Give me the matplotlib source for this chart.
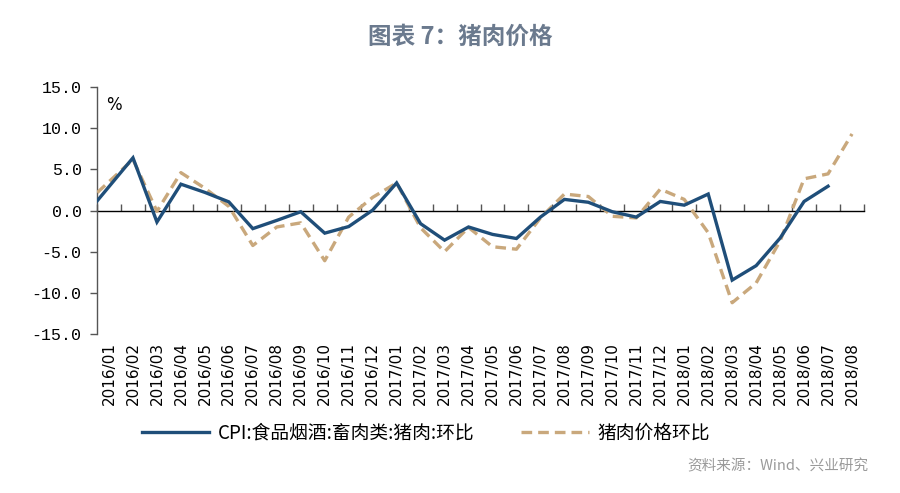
import matplotlib as mpl
import matplotlib.pyplot as plt
import numpy as np

mpl.rcParams.update(
    {
        "font.family": ["Noto Sans CJK SC", "DejaVu Sans"],
        "axes.linewidth": 1.0,
    }
)

# months shown on the category axis
months = [
    "2016/01", "2016/02", "2016/03", "2016/04", "2016/05", "2016/06", "2016/07", "2016/08",
    "2016/09", "2016/10", "2016/11", "2016/12", "2017/01", "2017/02", "2017/03", "2017/04",
    "2017/05", "2017/06", "2017/07", "2017/08", "2017/09", "2017/10", "2017/11", "2017/12",
    "2018/01", "2018/02", "2018/03", "2018/04", "2018/05", "2018/06", "2018/07", "2018/08",
]
# the lines enter from a 2015/12 point that the plot area clips
lead_cpi = -0.6
lead_pork = 0.8

cpi_pork_mom = [
    2.9, 6.4, -1.4, 3.2, 2.2, 1.05, -2.2, -1.2,
    -0.15, -2.75, -1.95, 0.05, 3.35, -1.6, -3.6, -2.0,
    -2.9, -3.4, -0.8, 1.35, 1.0, -0.15, -0.8, 1.1,
    0.65, 2.0, -8.45, -6.7, -3.35, 1.1, 2.95, np.nan,
]
pork_price_mom = [
    3.5, 6.2, -0.1, 4.6, 2.7, 0.5, -4.25, -2.0,
    -1.5, -6.1, -0.8, 1.6, 3.35, -2.1, -5.0, -2.05,
    -4.4, -4.7, -0.9, 2.0, 1.7, -0.7, -0.9, 2.6,
    1.35, -2.7, -11.2, -8.8, -3.7, 3.85, 4.45, 9.3,
]
series_names = ["CPI:食品烟酒:畜肉类:猪肉:环比", "猪肉价格环比"]
yticks = [-15, -10, -5, 0, 5, 10, 15]

blue = "#1f4e79"
tan = "#c9a87c"
axis_grey = "#555555"

fig = plt.figure(figsize=(9.0, 4.93), dpi=100)
ax = fig.add_axes([0.1078, 0.3225, 0.8522, 0.501])

x = np.arange(-1, len(months))
ax.plot(x, [lead_cpi] + cpi_pork_mom, color=blue, linewidth=2.4, label=series_names[0],
        solid_joinstyle="miter", zorder=4)
ax.plot(x, [lead_pork] + pork_price_mom, color=tan, linewidth=2.4, dashes=(3.2, 1.8),
        label=series_names[1], zorder=3)

ax.set_xlim(-0.5, len(months) - 0.5)
ax.set_ylim(yticks[0], yticks[-1])

for side in ["top", "right", "bottom"]:
    ax.spines[side].set_visible(False)
ax.spines["left"].set_color(axis_grey)

ax.set_yticks(yticks)
ax.set_yticklabels([f"{v:.1f}" for v in yticks], family="Liberation Mono", fontsize=12)
ax.tick_params(axis="y", direction="out", length=5, width=1.0, color=axis_grey, pad=6)

ax.set_xticks(np.arange(len(months)))
ax.set_xticklabels(months, rotation=90, family="DejaVu Sans", fontsize=11)
ax.tick_params(axis="x", length=0, pad=6)

# category axis drawn through zero, ticks at the category borders
zero_axis = ax.secondary_xaxis(0.5)
zero_axis.set_xticks(np.arange(len(months) + 1) - 0.5)
zero_axis.set_xticklabels([])
zero_axis.tick_params(axis="x", direction="out", length=5, width=1.0, color=axis_grey)
zero_axis.spines["bottom"].set_color(axis_grey)

ax.text(0.012, 0.965, "%", transform=ax.transAxes, fontsize=12, ha="left", va="top",
        family="DejaVu Sans")

fig.text(0.512, 0.925, "图表 7：猪肉价格", ha="center", va="center", fontsize=17,
         color="#6b7a8e", fontweight="bold")

fig.legend(loc="center", bbox_to_anchor=(0.473, 0.122), ncol=2, frameon=False,
           fontsize=13.5, handlelength=3.6, columnspacing=2.5, handletextpad=0.45)

fig.text(0.965, 0.054, "资料来源：Wind、兴业研究", ha="right", va="center", fontsize=10.5,
         color="#9a9a9a")

fig.savefig("out.png", dpi=100)
